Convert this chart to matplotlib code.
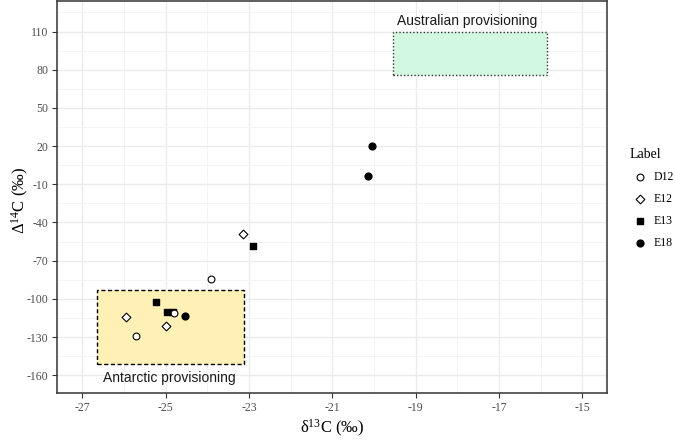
import matplotlib.pyplot as plt
from matplotlib.patches import Rectangle
from matplotlib.ticker import MultipleLocator, FixedLocator

plt.rcParams["axes.unicode_minus"] = False
plt.rcParams["mathtext.fontset"] = "custom"
plt.rcParams["mathtext.rm"] = "Liberation Serif"

# Data (d13C, D14C)
d12_x = [-23.9, -25.7, -24.8]
d12_y = [-84.1, -129.2, -110.9]
e12_x = [-23.14, -25.95, -24.98]
e12_y = [-48.8, -114, -121.3]
e13_x = [-22.9, -25.22, -24.97, -24.83]
e13_y = [-58.2, -102.2, -110.1, -110.1]
e18_x = [-20.04, -20.15, -24.53]
e18_y = [20, -3.7, -113.2]

# provisioning boxes (x0, x1, y0, y1)
antarctic_box = (-26.65, -23.12, -151, -93)
australian_box = (-19.55, -15.84, 76, 110)

x_ticks = [-27, -25, -23, -21, -19, -17, -15]
y_ticks = [110, 80, 50, 20, -10, -40, -70, -100, -130, -160]

serif = ["Liberation Serif", "DejaVu Serif"]
sans = ["Liberation Sans", "DejaVu Sans"]

fig = plt.figure(figsize=(6.75, 4.4), dpi=100)
ax = fig.add_axes([57.3 / 675, 47 / 440, 550 / 675, 392 / 440])

x0, x1, y0, y1 = antarctic_box
ax.add_patch(Rectangle((x0, y0), x1 - x0, y1 - y0, facecolor="#fff1b5",
                       edgecolor="black", linestyle=(0, (3, 1.8)), lw=1.0, zorder=2))
x0, x1, y0, y1 = australian_box
ax.add_patch(Rectangle((x0, y0), x1 - x0, y1 - y0, facecolor="#d3f8e2",
                       edgecolor="#333333", linestyle=(0, (1, 1.5)), lw=1.0, zorder=2))
ax.text(-17.76, 118.5, "Australian provisioning", family=sans, fontsize=10,
        ha="center", va="center", color="#1a1a1a", zorder=3)
ax.text(-24.92, -162.4, "Antarctic provisioning", family=sans, fontsize=10,
        ha="center", va="center", color="#1a1a1a", zorder=3)

# points
ax.scatter(e13_x, e13_y, marker="s", s=17, c="black", zorder=4, label="E13")
ax.scatter(e18_x, e18_y, marker="o", s=24, c="black", zorder=4, label="E18")
ax.scatter(e12_x, e12_y, marker="D", s=20, facecolor="white",
           edgecolor="black", lw=0.8, zorder=5, label="E12")
ax.scatter(d12_x, d12_y, marker="o", s=24, facecolor="white",
           edgecolor="black", lw=0.8, zorder=5, label="D12")

ax.set_xlim(-27.6, -14.4)
ax.set_ylim(-174, 134)
ax.xaxis.set_major_locator(FixedLocator(x_ticks))
ax.xaxis.set_minor_locator(MultipleLocator(1))
ax.yaxis.set_major_locator(FixedLocator(y_ticks))
ax.yaxis.set_minor_locator(FixedLocator([y + 15 for y in y_ticks]))
ax.grid(which="major", color="#ebebeb", lw=1.0, zorder=0)
ax.grid(which="minor", color="#f3f3f3", lw=0.6, zorder=0)
ax.set_axisbelow(True)

for sp in ax.spines.values():
    sp.set_color("#333333")
    sp.set_linewidth(1.1)
ax.tick_params(which="major", length=3.5, width=0.8, color="#333333",
               labelsize=8.5, labelcolor="#4d4d4d", pad=3)
ax.tick_params(which="minor", length=0)
for lab in ax.get_xticklabels() + ax.get_yticklabels():
    lab.set_family(serif)

ax.set_xlabel(r"$\mathregular{\delta^{13}}$C (‰)", family=serif, fontsize=12,
              labelpad=3)
ax.set_ylabel(r"$\mathregular{\Delta^{14}}$C (‰)", family=serif, fontsize=12)
ax.yaxis.set_label_coords(-0.047, 0.49)

handles, labels = ax.get_legend_handles_labels()
order = [labels.index(k) for k in ["D12", "E12", "E13", "E18"]]
leg = fig.legend([handles[i] for i in order], [labels[i] for i in order],
                 title="Label", loc="upper left",
                 bbox_to_anchor=(630 / 675, 1 - 148 / 440),
                 frameon=False, prop={"family": serif, "size": 8.5},
                 handlelength=1.7, handletextpad=0.3, labelspacing=0.85,
                 borderaxespad=0, borderpad=0)
leg.get_title().set_family(serif)
leg.get_title().set_fontsize(10)
leg._legend_box.align = "left"

fig.savefig("out.png", dpi=100)
